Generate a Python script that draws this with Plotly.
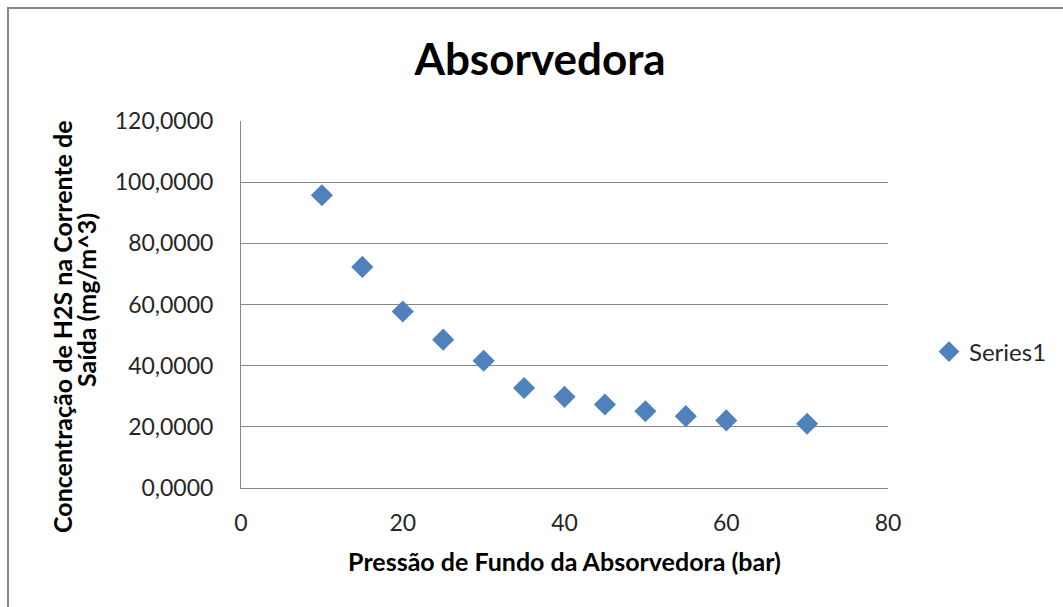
import plotly.graph_objects as go

# Bottom pressure of the absorber (bar) and outlet H2S concentration (mg/m^3)
pressao = [10, 15, 20, 25, 30, 35, 40, 45, 50, 55, 60, 70]
concentracao = [95.7, 72.3, 57.7, 48.5, 41.6, 32.7, 29.8, 27.3, 25.1, 23.5, 22.1, 21.0]

serie_nome = "Series1"
titulo = "Absorvedora"
titulo_x = "Pressão de Fundo da Absorvedora (bar)"
titulo_y_linha1 = "Concentração de H2S na Corrente de"
titulo_y_linha2 = "Saída (mg/m^3)"

azul = "#4F81BD"
cinza = "#868686"
fonte = "Lato, 'Open Sans', sans-serif"

# plot area in pixels: left 241, right 888, top 121, bottom 488
L, R, T, B = 241, 888, 121, 488


def px_x(p):
    return (p - L) / (R - L)


def px_y(p):
    return (B - p) / (B - T)


fig = go.Figure()
fig.add_trace(go.Scatter(
    x=pressao,
    y=concentracao,
    mode="markers",
    name=serie_nome,
    marker=dict(symbol="diamond", size=17, color=azul),
))

fig.update_layout(
    width=1063,
    height=607,
    margin=dict(l=L, r=1063 - R, t=T, b=607 - B, autoexpand=False),
    paper_bgcolor="white",
    plot_bgcolor="white",
    separators=",.",
    font=dict(family=fonte, color="#262626", size=23),
    title=dict(
        text="<b>" + titulo + "</b>",
        x=(540 / 1063),
        xanchor="center",
        y=1 - 60 / 607,
        yanchor="middle",
        font=dict(family=fonte, size=44, color="black"),
    ),
    showlegend=True,
    legend=dict(
        x=px_x(929),
        y=px_y(352),
        xanchor="left",
        yanchor="middle",
        itemwidth=30,
        font=dict(family=fonte, size=24, color="#262626"),
        bgcolor="rgba(0,0,0,0)",
    ),
    xaxis=dict(
        range=[0, 80],
        tickvals=[0, 20, 40, 60, 80],
        showgrid=False,
        zeroline=False,
        showline=True,
        linecolor=cinza,
        linewidth=1,
        ticks="",
        ticklabelstandoff=14,
        tickfont=dict(family=fonte, size=23, color="#262626"),
        title=dict(
            text="<b>" + titulo_x + "</b>",
            font=dict(family=fonte, size=25, color="black"),
            standoff=18,
        ),
    ),
    yaxis=dict(
        range=[0, 120],
        tickvals=[0, 20, 40, 60, 80, 100, 120],
        tickformat=".4f",
        showgrid=True,
        gridcolor=cinza,
        gridwidth=1,
        zeroline=False,
        showline=True,
        linecolor=cinza,
        linewidth=1,
        ticks="",
        ticklabelstandoff=22,
        tickfont=dict(family=fonte, size=23, color="#262626"),
    ),
)

# Rotated two-line y-axis title
for texto, cx, cy in [(titulo_y_linha1, 62, 327), (titulo_y_linha2, 86, 300)]:
    fig.add_annotation(
        text="<b>" + texto + "</b>",
        xref="paper", yref="paper",
        x=px_x(cx), y=px_y(cy),
        xanchor="center", yanchor="middle",
        textangle=-90,
        showarrow=False,
        font=dict(family=fonte, size=25, color="black"),
    )

# Outer chart frame
fig.add_shape(
    type="rect",
    xref="paper", yref="paper",
    x0=px_x(8), x1=px_x(1075),
    y0=px_y(620), y1=px_y(8),
    line=dict(color=cinza, width=2),
    fillcolor="rgba(0,0,0,0)",
    layer="below",
)

fig.write_html("out.html")
